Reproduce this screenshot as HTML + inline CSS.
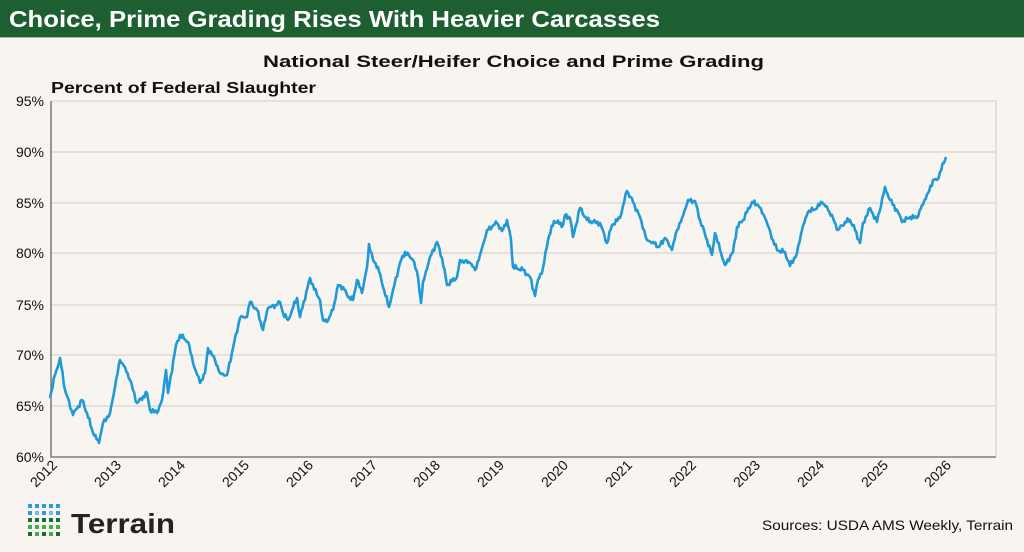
<!DOCTYPE html>
<html><head><meta charset="utf-8"><style>
body{margin:0;width:1024px;height:552px;background:#f8f4f0;font-family:"Liberation Sans",sans-serif;overflow:hidden;position:relative}
</style></head><body>
<svg width="1024" height="552" style="position:absolute;left:0;top:0">
<rect x="0" y="0" width="1024" height="37" fill="#1e5f32"/>
<line x1="0" x2="1024" y1="37.5" y2="37.5" stroke="#9cbfa2"/>
<text x="9" y="27" font-size="23" font-weight="bold" fill="#fff" textLength="651" lengthAdjust="spacingAndGlyphs">Choice, Prime Grading Rises With Heavier Carcasses</text>
<text x="263" y="67" font-size="17" font-weight="bold" fill="#111" textLength="501" lengthAdjust="spacingAndGlyphs">National Steer/Heifer Choice and Prime Grading</text>
<text x="51" y="93" font-size="16" font-weight="bold" fill="#111" textLength="265" lengthAdjust="spacingAndGlyphs">Percent of Federal Slaughter</text>
<g stroke="#d9d4cf" stroke-width="1.2">
<line x1="51" x2="996" y1="101" y2="101"/><line x1="51" x2="996" y1="152" y2="152"/><line x1="51" x2="996" y1="203" y2="203"/><line x1="51" x2="996" y1="253" y2="253"/><line x1="51" x2="996" y1="305" y2="305"/><line x1="51" x2="996" y1="355" y2="355"/><line x1="51" x2="996" y1="406" y2="406"/>
<line x1="996" x2="996" y1="101" y2="457"/>
</g>
<path d="M51 101V457H996" fill="none" stroke="#666" stroke-width="1.3"/>
<g font-size="14" fill="#111" text-anchor="end">
<text x="44" y="106">95%</text><text x="44" y="157">90%</text><text x="44" y="208">85%</text><text x="44" y="258">80%</text><text x="44" y="310">75%</text><text x="44" y="360">70%</text><text x="44" y="411">65%</text><text x="44" y="462">60%</text>
</g>
<g font-size="14" fill="#111" text-anchor="end">
<text transform="translate(58,466) rotate(-45)">2012</text>
<text transform="translate(122,466) rotate(-45)">2013</text>
<text transform="translate(186,466) rotate(-45)">2014</text>
<text transform="translate(250,466) rotate(-45)">2015</text>
<text transform="translate(314,466) rotate(-45)">2016</text>
<text transform="translate(378,466) rotate(-45)">2017</text>
<text transform="translate(441,466) rotate(-45)">2018</text>
<text transform="translate(505,466) rotate(-45)">2019</text>
<text transform="translate(569,466) rotate(-45)">2020</text>
<text transform="translate(633,466) rotate(-45)">2021</text>
<text transform="translate(697,466) rotate(-45)">2022</text>
<text transform="translate(761,466) rotate(-45)">2023</text>
<text transform="translate(825,466) rotate(-45)">2024</text>
<text transform="translate(889,466) rotate(-45)">2025</text>
<text transform="translate(952,466) rotate(-45)">2026</text>
</g>
<polyline id="ln" fill="none" stroke="#1f9ad6" stroke-width="2.6" stroke-linejoin="round" points="50,398 55,375 60,358 65,390 73,415 82,400 87,413 93,433 99,443 103,423 110,413 115,387 120,360 125,367 130,380 137,403 147,393 150,410 157,413 162,400 166,370 168,393 176,345 180,335 188,342 193,363 200,383 205,373 208,348 215,360 220,373 227,375 233,348 240,318 247,317 250,302 257,310 263,330 268,308 277,305 280,302 283,313 288,320 297,298 300,317 310,278 317,295 320,300 323,320 327,322 333,310 338,285 343,287 348,297 353,300 357,280 362,293 367,267 369,244 373,260 378,267 383,287 389,307 393,290 400,263 405,252 413,260 418,277 421,303 423,282 430,257 437,242 442,258 447,285 457,277 460,260 470,263 475,270 480,255 487,230 497,223 502,231 507,220 511,240 513,267 523,270 530,277 535,296 538,280 543,268 548,240 554,221 563,225 565,215 570,218 573,237 580,208 587,220 593,222 600,223 607,243 612,225 620,218 627,191 633,202 640,217 647,240 653,242 659,247 665,238 672,250 677,230 682,218 688,200 695,201 700,220 707,240 712,255 715,233 720,250 725,265 733,252 737,227 743,220 752,202 758,205 765,218 773,240 777,250 785,252 790,266 797,253 802,230 808,212 817,208 822,202 828,210 833,218 838,230 845,222 850,220 855,230 860,243 863,223 870,208 877,222 885,187 890,200 898,212 902,222 910,217 917,218 922,205 928,193 933,180 937,180 940,172 945,160 946,157"/>
<g>
<g fill="#2a9be0"><rect x="28" y="504" width="4" height="4"/><rect x="35" y="504" width="4" height="4"/><rect x="42" y="504" width="4" height="4"/><rect x="49" y="504" width="4" height="4"/><rect x="56" y="504" width="4" height="4"/>
<rect x="28" y="511" width="4" height="4"/><rect x="35" y="511" width="4" height="4" fill="#6cc3f0"/><rect x="42" y="511" width="4" height="4"/><rect x="49" y="511" width="4" height="4" fill="#6cc3f0"/><rect x="56" y="511" width="4" height="4"/></g>
<g fill="#1d6a36"><rect x="28" y="518" width="4" height="4"/><rect x="35" y="518" width="4" height="4"/><rect x="42" y="518" width="4" height="4"/><rect x="49" y="518" width="4" height="4"/><rect x="56" y="518" width="4" height="4"/></g>
<g fill="#3fae49"><rect x="28" y="525" width="4" height="4"/><rect x="35" y="525" width="4" height="4"/><rect x="42" y="525" width="4" height="4"/><rect x="49" y="525" width="4" height="4"/><rect x="56" y="525" width="4" height="4"/></g>
<g fill="#1d6a36"><rect x="28" y="532" width="4" height="4"/><rect x="35" y="532" width="4" height="4" fill="#3fae49"/><rect x="42" y="532" width="4" height="4"/><rect x="49" y="532" width="4" height="4" fill="#3fae49"/><rect x="56" y="532" width="4" height="4"/></g>
<text x="71" y="533" font-size="28" font-weight="bold" fill="#222" textLength="104" lengthAdjust="spacingAndGlyphs">Terrain</text>
</g>
<text x="1013" y="530" text-anchor="end" font-size="14" fill="#111" textLength="251" lengthAdjust="spacingAndGlyphs">Sources: USDA AMS Weekly, Terrain</text>
</svg>
<script>
(function(){
var el=document.getElementById('ln');
var p=el.getAttribute('points').trim().split(/\s+/).map(function(s){return s.split(',').map(Number);});
var out=[],k=0;
for(var i=0;i<p.length-1;i++){
 var a=p[i],b=p[i+1],n=Math.max(1,Math.round((b[0]-a[0])/1.3));
 for(var j=0;j<n;j++){
  var t=j/n,x=a[0]+(b[0]-a[0])*t,y=a[1]+(b[1]-a[1])*t;
  k++;
  var nz=(j==0)?0:(Math.sin(k*2.7)*1.6+Math.sin(k*1.13)*1.2);
  out.push(x.toFixed(1)+','+(y+nz).toFixed(1));
 }
}
out.push(p[p.length-1].join(','));
el.setAttribute('points',out.join(' '));
})();
</script>
</body></html>
